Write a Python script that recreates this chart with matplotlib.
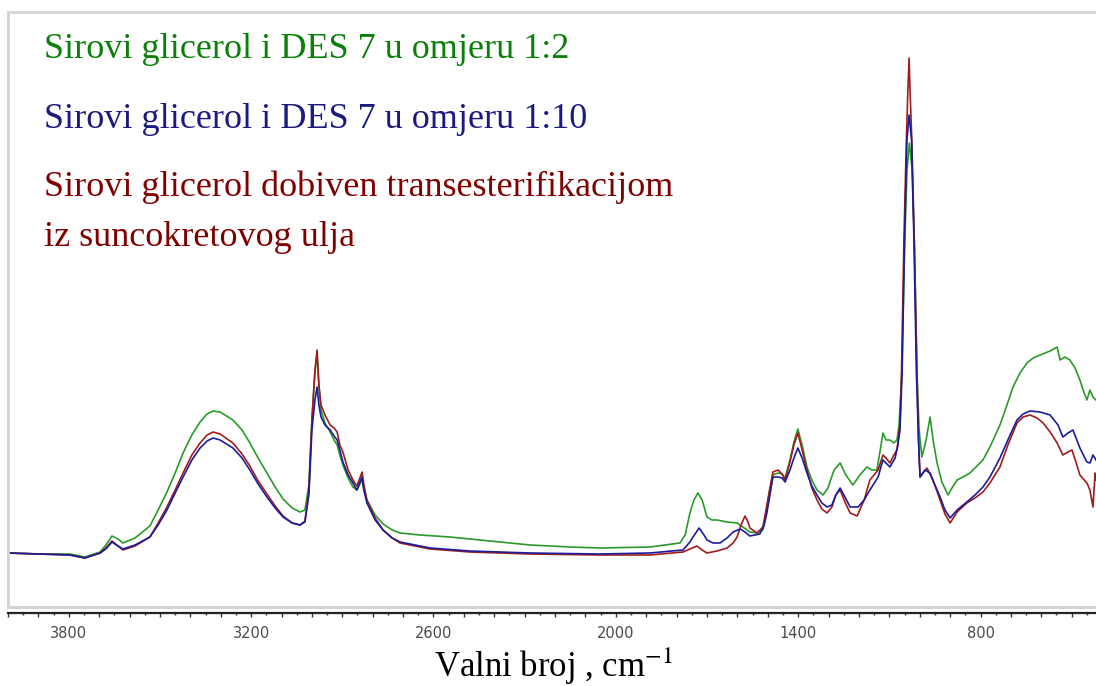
import numpy as np
import matplotlib
matplotlib.use("Agg")
import matplotlib.pyplot as plt
from matplotlib.ticker import MultipleLocator, FuncFormatter

plt.rcParams['mathtext.fontset'] = 'stix'

# tick labels on the wavenumber axis
tick_values = [3800, 3200, 2600, 2000, 1400, 800]

# Sirovi glicerol i DES 7 u omjeru 1:2 (green)
wn_green = [4000, 3895, 3796, 3747, 3697, 3678, 3658, 3638, 3622, 3582, 3533, 3506, 3477, 3450, 3424,
            3395, 3368, 3345, 3325, 3302, 3260, 3230, 3204, 3177, 3148, 3121, 3095, 3065, 3039, 3023,
            3010, 3000, 2990, 2983, 2977, 2970, 2957, 2940, 2927, 2917, 2908, 2898, 2881, 2865, 2852,
            2842, 2835, 2829, 2819, 2792, 2766, 2736, 2710, 2644, 2546, 2480, 2381, 2282, 2151, 2052,
            1888, 1789, 1772, 1756, 1743, 1730, 1716, 1700, 1684, 1667, 1634, 1601, 1582, 1559, 1535,
            1516, 1503, 1493, 1483, 1466, 1453, 1443, 1427, 1414, 1401, 1387, 1371, 1355, 1338, 1318,
            1302, 1282, 1262, 1243, 1220, 1197, 1174, 1157, 1141, 1131, 1121, 1111, 1098, 1085, 1075,
            1068, 1059, 1050, 1042, 1034, 1025, 1017, 1009, 1002, 993, 979, 966, 956, 943, 927,
            907, 894, 877, 858, 835, 792, 769, 736, 713, 693, 670, 647, 627, 604, 571,
            548, 538, 522, 506, 489, 473, 460, 450, 440, 430, 420]
a_green = [54, 53, 53, 50, 55, 62, 71, 68, 64, 69, 81, 97, 115, 134, 154,
           172, 185, 193, 196, 195, 187, 177, 164, 149, 134, 120, 108, 99, 95, 97,
           122, 187, 235, 252, 222, 197, 184, 175, 167, 162, 152, 142, 129, 120, 117,
           123, 127, 117, 107, 92, 83, 77, 74, 72, 70, 68, 65, 62, 60, 59,
           60, 64, 72, 94, 107, 114, 107, 90, 87, 87, 85, 84, 80, 75, 74,
           77, 97, 117, 132, 134, 133, 129, 147, 165, 178, 162, 140, 127, 117, 112,
           119, 137, 144, 132, 122, 132, 140, 137, 137, 155, 174, 167, 167, 164, 167,
           182, 234, 357, 437, 464, 437, 357, 234, 177, 150, 167, 190, 167, 144, 125,
           112, 119, 127, 130, 134, 147, 160, 182, 202, 220, 234, 244, 249, 252, 256,
           260, 247, 250, 247, 239, 227, 215, 207, 217, 210, 207]

# Sirovi glicerol i DES 7 u omjeru 1:10 (blue)
wn_blue = [4000, 3895, 3796, 3747, 3697, 3678, 3658, 3638, 3622, 3582, 3533, 3506, 3477, 3450, 3424,
           3395, 3368, 3345, 3325, 3302, 3260, 3230, 3204, 3177, 3148, 3121, 3095, 3065, 3039, 3023,
           3010, 3000, 2990, 2983, 2977, 2970, 2957, 2940, 2927, 2917, 2908, 2898, 2881, 2865, 2852,
           2842, 2835, 2829, 2819, 2792, 2766, 2736, 2710, 2611, 2480, 2282, 2052, 1888, 1779, 1756,
           1746, 1726, 1710, 1700, 1680, 1657, 1634, 1614, 1591, 1575, 1559, 1526, 1512, 1503, 1493,
           1483, 1466, 1453, 1443, 1427, 1414, 1401, 1387, 1371, 1355, 1338, 1322, 1305, 1289, 1276,
           1262, 1246, 1229, 1203, 1183, 1164, 1137, 1121, 1111, 1098, 1081, 1072, 1065, 1058, 1050,
           1042, 1035, 1027, 1019, 1011, 1004, 999, 983, 966, 950, 933, 917, 900, 877, 845,
           818, 792, 769, 736, 710, 680, 660, 637, 604, 571, 545, 529, 512, 496, 483,
           473, 450, 440, 430, 420]
a_blue = [54, 53, 52, 49, 54, 58, 65, 61, 58, 62, 70, 82, 97, 114, 130,
          147, 159, 166, 169, 167, 159, 149, 137, 123, 110, 99, 90, 84, 82, 85,
          112, 177, 207, 220, 202, 190, 182, 177, 171, 167, 157, 145, 132, 124, 117,
          125, 130, 117, 104, 87, 77, 69, 65, 59, 56, 54, 53, 54, 57, 65,
          70, 79, 72, 67, 64, 64, 69, 75, 78, 75, 71, 73, 82, 94, 112,
          130, 130, 129, 125, 137, 149, 159, 149, 134, 121, 112, 104, 100, 102, 112,
          119, 110, 100, 100, 107, 117, 130, 147, 144, 140, 149, 162, 177, 234, 367,
          467, 492, 467, 367, 234, 167, 130, 137, 134, 122, 110, 97, 89, 97, 105,
          112, 120, 130, 149, 167, 187, 193, 196, 195, 192, 182, 170, 174, 177, 167,
          159, 145, 144, 152, 147]

# Sirovi glicerol dobiven transesterifikacijom iz suncokretovog ulja (red)
wn_red = [4000, 3895, 3796, 3747, 3697, 3678, 3658, 3638, 3622, 3582, 3533, 3506, 3477, 3450, 3424,
          3395, 3368, 3345, 3325, 3302, 3260, 3230, 3204, 3177, 3148, 3121, 3095, 3065, 3039, 3023,
          3010, 3000, 2990, 2983, 2977, 2970, 2957, 2940, 2927, 2917, 2908, 2898, 2881, 2865, 2852,
          2842, 2835, 2829, 2819, 2792, 2766, 2736, 2710, 2611, 2480, 2282, 2052, 1888, 1779, 1756,
          1733, 1716, 1700, 1667, 1634, 1614, 1601, 1588, 1575, 1565, 1559, 1535, 1516, 1503, 1493,
          1483, 1466, 1453, 1443, 1427, 1414, 1401, 1387, 1371, 1355, 1338, 1322, 1305, 1289, 1276,
          1262, 1246, 1229, 1206, 1183, 1164, 1137, 1121, 1111, 1098, 1085, 1075, 1065, 1060, 1052,
          1044, 1039, 1035, 1032, 1026, 1018, 1009, 1004, 999, 976, 960, 947, 933, 917, 900,
          877, 845, 818, 792, 769, 736, 710, 680, 660, 637, 614, 594, 571, 548, 529,
          512, 499, 483, 473, 450, 440, 430, 423, 420]
a_red = [54, 53, 52, 49, 54, 59, 66, 61, 57, 61, 70, 84, 100, 117, 134,
         152, 164, 172, 175, 173, 164, 153, 141, 126, 113, 101, 91, 84, 82, 86,
         117, 187, 237, 257, 222, 202, 192, 182, 179, 175, 162, 155, 137, 127, 121,
         129, 135, 122, 107, 89, 77, 69, 64, 58, 55, 53, 52, 52, 55, 58,
         61, 57, 54, 56, 59, 64, 70, 82, 91, 85, 79, 74, 80, 102, 119,
         135, 137, 133, 127, 145, 162, 174, 157, 137, 119, 107, 98, 94, 100, 112,
         117, 105, 94, 91, 107, 127, 137, 152, 149, 144, 152, 157, 182, 234, 367,
         467, 517, 549, 517, 467, 367, 234, 167, 130, 139, 129, 119, 107, 93, 84,
         95, 104, 109, 115, 124, 140, 162, 184, 190, 192, 189, 184, 175, 164, 152,
         155, 157, 142, 132, 124, 117, 100, 134, 127]

fig = plt.figure(figsize=(10.96, 6.86), dpi=100)
ax = fig.add_axes([8/1096, 79/686, 1088/1096, 595/686])

ax.plot(wn_green, a_green, color='#2a9a2a', lw=1.2)
ax.plot(wn_red, a_red, color='#a01c1c', lw=1.2)
ax.plot(wn_blue, a_blue, color='#1c1c9a', lw=1.2)

ax.set_xlim(4000, 420)
ax.set_ylim(0, 595)

# frame: light grey box, dark wavenumber axis slightly below it
for side in ['left', 'top']:
    ax.spines[side].set_color('#d4d4d4')
    ax.spines[side].set_linewidth(2)
ax.spines['right'].set_visible(False)
ax.axhline(0, color='#d4d4d4', lw=2.2, clip_on=False)
ax.spines['bottom'].set_position(('outward', 4.5))
ax.spines['bottom'].set_color('#222222')
ax.spines['bottom'].set_linewidth(1.6)

ax.set_yticks([])
ax.xaxis.set_major_locator(MultipleLocator(100))
ax.xaxis.set_minor_locator(MultipleLocator(50))
ax.xaxis.set_major_formatter(FuncFormatter(lambda v, p: f"{int(round(v))}" if int(round(v)) in tick_values else ""))
ax.tick_params(axis='x', which='major', length=3.2, width=1.0, color='#333333',
               labelsize=10.5, labelcolor='#4a4a4a', pad=6)
ax.tick_params(axis='x', which='minor', length=1.6, width=1.0, color='#333333')

fig.text(554/1096, 9/686, "Valni broj , cm$^{-1}$", ha='center', va='baseline',
         family='Liberation Serif', fontsize=25, color='black')

fig.text(44/1096, (686-58)/686, "Sirovi glicerol i DES 7 u omjeru 1:2", ha='left', va='baseline',
         family='Liberation Serif', fontsize=26, color='#0a800a')
fig.text(44/1096, (686-128)/686, "Sirovi glicerol i DES 7 u omjeru 1:10", ha='left', va='baseline',
         family='Liberation Serif', fontsize=26, color='#1a1a80')
fig.text(44/1096, (686-196)/686, "Sirovi glicerol dobiven transesterifikacijom", ha='left', va='baseline',
         family='Liberation Serif', fontsize=26, color='#800000')
fig.text(44/1096, (686-246)/686, "iz suncokretovog ulja", ha='left', va='baseline',
         family='Liberation Serif', fontsize=26, color='#800000')

fig.savefig("out.png", dpi=100)
